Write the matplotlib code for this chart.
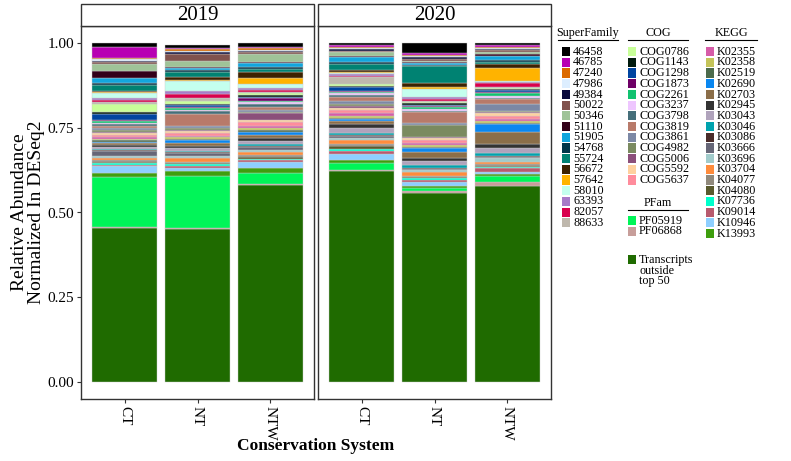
import numpy as np
import matplotlib.pyplot as plt
from matplotlib.patches import Rectangle

plt.rcParams['font.family'] = ['Liberation Serif', 'DejaVu Serif']

# legend groups (stack order is alphabetical, first name on top of the bar)
superfamily = ['46458', '46785', '47240', '47986', '49384', '50022', '50346', '51110', '51905',
               '54768', '55724', '56672', '57642', '58010', '63393', '82057', '88633']
sf_colors = ['#000000', '#B800B3', '#DB6A00', '#DDEEFF', '#0A0A3C', '#80524D', '#9FC398', '#330019',
             '#12A6DD', '#00364A', '#008272', '#3D2200', '#FFB300', '#C4FFEE', '#A77BC9', '#D9004D', '#BFB8AD']
cog = ['COG0786', 'COG1143', 'COG1298', 'COG1873', 'COG2261', 'COG3237', 'COG3798', 'COG3819',
       'COG3861', 'COG4982', 'COG5006', 'COG5592', 'COG5637']
cog_colors = ['#C8FF99', '#001A0D', '#0045A0', '#6E0066', '#11C270', '#EEC6FF', '#456F7A', '#B87A6A',
              '#7C88A5', '#7A8A60', '#8B4F7A', '#FFD19F', '#FF8C9C']
kegg = ['K02355', 'K02358', 'K02519', 'K02690', 'K02703', 'K02945', 'K03043', 'K03046', 'K03086',
        'K03666', 'K03696', 'K03704', 'K04077', 'K04080', 'K07736', 'K09014', 'K10946', 'K13993']
kegg_colors = ['#D65CA8', '#C4C45A', '#4C6B4C', '#0A87F0', '#8B6E49', '#333333', '#B0A3BC', '#00A3AE',
               '#4A2C2A', '#666677', '#A1CBCB', '#FF8C3C', '#918A7D', '#5A5A2E', '#00FFCC', '#B85A6E',
               '#8ECFFF', '#3E9E0E']
pfam = ['PF05919', 'PF06868']
pfam_colors = ['#00F558', '#C79E9A']
other = 'Transcripts\noutside\ntop 50'
other_color = '#1F6B00'

categories = superfamily + cog + kegg + pfam + [other]
colors = sf_colors + cog_colors + kegg_colors + pfam_colors + [other_color]

years = ['2019', '2020']
systems = ['CT', 'NT', 'NTW']

# relative abundance, same order as categories
ct_2019 = ([0.012, 0.031, 0.004, 0.005, 0.005, 0.005, 0.022, 0.020, 0.015, 0.005, 0.018, 0.004, 0.003, 0.012, 0.008, 0.005, 0.006]
           + [0.025, 0.005, 0.018, 0.003, 0.004, 0.004, 0.005, 0.006, 0.006, 0.006, 0.004, 0.004, 0.008]
           + [0.005, 0.004, 0.005, 0.004, 0.005, 0.005, 0.006, 0.004, 0.004, 0.012, 0.006, 0.008, 0.004, 0.004, 0.006, 0.004, 0.020, 0.012]
           + [0.146, 0.003] + [0.455])
nt_2019 = ([0.008, 0.004, 0.006, 0.003, 0.005, 0.020, 0.018, 0.004, 0.006, 0.005, 0.016, 0.008, 0.003, 0.030, 0.008, 0.012, 0.009]
           + [0.008, 0.004, 0.006, 0.004, 0.005, 0.003, 0.008, 0.035, 0.008, 0.005, 0.004, 0.006, 0.006]
           + [0.004, 0.005, 0.004, 0.010, 0.008, 0.006, 0.008, 0.004, 0.004, 0.008, 0.006, 0.010, 0.004, 0.004, 0.006, 0.004, 0.010, 0.014]
           + [0.153, 0.005] + [0.450])
ntw_2019 = ([0.012, 0.004, 0.004, 0.004, 0.004, 0.004, 0.025, 0.003, 0.010, 0.008, 0.008, 0.018, 0.018, 0.012, 0.006, 0.004, 0.004]
            + [0.005, 0.005, 0.004, 0.008, 0.005, 0.006, 0.008, 0.008, 0.006, 0.005, 0.020, 0.006, 0.010]
            + [0.006, 0.006, 0.006, 0.008, 0.010, 0.008, 0.010, 0.006, 0.004, 0.008, 0.006, 0.008, 0.006, 0.005, 0.005, 0.004, 0.020, 0.014]
            + [0.032, 0.004] + [0.580])
ct_2020 = ([0.006, 0.006, 0.004, 0.003, 0.004, 0.004, 0.012, 0.003, 0.015, 0.006, 0.018, 0.004, 0.003, 0.004, 0.004, 0.003, 0.022]
           + [0.006, 0.004, 0.010, 0.004, 0.004, 0.004, 0.006, 0.012, 0.010, 0.005, 0.005, 0.006, 0.010]
           + [0.008, 0.005, 0.005, 0.005, 0.010, 0.012, 0.014, 0.005, 0.003, 0.005, 0.008, 0.012, 0.004, 0.010, 0.006, 0.008, 0.018, 0.008]
           + [0.022, 0.003] + [0.622])
nt_2020 = ([0.031, 0.004, 0.003, 0.003, 0.005, 0.006, 0.003, 0.003, 0.006, 0.004, 0.050, 0.013, 0.004, 0.025, 0.006, 0.004, 0.004]
           + [0.004, 0.004, 0.004, 0.004, 0.006, 0.005, 0.004, 0.032, 0.005, 0.035, 0.004, 0.006, 0.008]
           + [0.006, 0.005, 0.005, 0.012, 0.015, 0.010, 0.012, 0.008, 0.004, 0.004, 0.005, 0.010, 0.004, 0.004, 0.005, 0.006, 0.012, 0.006]
           + [0.008, 0.007] + [0.557])
ntw_2020 = ([0.006, 0.005, 0.003, 0.003, 0.003, 0.008, 0.006, 0.003, 0.012, 0.006, 0.006, 0.012, 0.038, 0.004, 0.004, 0.010, 0.004]
            + [0.004, 0.003, 0.006, 0.003, 0.008, 0.004, 0.003, 0.015, 0.022, 0.004, 0.003, 0.008, 0.008]
            + [0.006, 0.005, 0.005, 0.024, 0.035, 0.010, 0.015, 0.008, 0.003, 0.005, 0.010, 0.008, 0.004, 0.004, 0.004, 0.010, 0.006, 0.006]
            + [0.018, 0.013] + [0.577])

abundance = {'2019': [ct_2019, nt_2019, ntw_2019], '2020': [ct_2020, nt_2020, ntw_2020]}

W, H = 791, 461
fig = plt.figure(figsize=(W / 100, H / 100), dpi=100)


def fx(px):
    return px / W


def fy(py):
    return 1 - py / H


panel_x = {'2019': (81, 314), '2020': (318, 551)}
panel_top, panel_bottom, strip_top = 26, 399, 4
edge = '#333333'

for k, year in enumerate(years):
    x0, x1 = panel_x[year]
    ax = fig.add_axes([fx(x0), fy(panel_bottom), fx(x1) - fx(x0), fy(panel_top) - fy(panel_bottom)])
    for i, vals in enumerate(abundance[year]):
        bottom = 0
        for v, c in zip(vals[::-1], colors[::-1]):
            ax.bar(i + 1, v, 0.9, bottom=bottom, color=c, edgecolor='#cccccc', linewidth=0.3)
            bottom += v
    ax.set_xlim(0.4, 3.6)
    ax.set_ylim(-0.05, 1.05)
    ax.set_xticks([1, 2, 3])
    ax.set_xticklabels(systems, rotation=-90, fontsize=11, va='top')
    ax.set_yticks([0, 0.25, 0.5, 0.75, 1.0])
    ax.set_yticklabels(['0.00', '0.25', '0.50', '0.75', '1.00'], fontsize=11)
    ax.tick_params(direction='out', length=3, width=0.8, color=edge, pad=2)
    if k == 1:
        ax.tick_params(left=False, labelleft=False)
    for s in ax.spines.values():
        s.set_color(edge)
        s.set_linewidth(1.0)
    # facet strip
    fig.patches.append(Rectangle((fx(x0), fy(panel_top)), fx(x1) - fx(x0), fy(strip_top) - fy(panel_top),
                                 transform=fig.transFigure, facecolor='white', edgecolor=edge, linewidth=1.0))
    fig.text(fx((x0 + x1) / 2), fy(15), year, ha='center', va='center', fontsize=15)

fig.text(fx(28), fy(212), 'Relative Abundance\nNormalized In DESeq2', rotation=90,
         ha='center', va='center', fontsize=14, linespacing=1.0)
fig.text(fx(316), fy(446), 'Conservation System', ha='center', va='center', fontsize=12.5, fontweight='bold')

# legends
row_h = 10.7
lab_size = 8.7


def legend_group(title, names, cols, key_x, line_x0, line_x1, title_y, first_row):
    fig.text(fx((line_x0 + line_x1) / 2), fy(title_y), title, ha='center', va='center', fontsize=lab_size)
    fig.lines.append(plt.Line2D([fx(line_x0), fx(line_x1)], [fy(title_y + 7.5), fy(title_y + 7.5)],
                                transform=fig.transFigure, color='black', linewidth=0.8))
    for j, (n, c) in enumerate(zip(names, cols)):
        yc = first_row + j * row_h
        fig.patches.append(Rectangle((fx(key_x), fy(yc + 4.6)), fx(8), fy(0) - fy(9.2),
                                     transform=fig.transFigure, facecolor=c, edgecolor='none'))
        fig.text(fx(key_x + 11), fy(yc), n, ha='left', va='center', fontsize=lab_size)


legend_group('SuperFamily', superfamily, sf_colors, 562, 558, 618, 33, 51.7)
legend_group('COG', cog, cog_colors, 628, 628, 688, 33, 51.7)
legend_group('KEGG', kegg, kegg_colors, 706, 705, 757, 33, 51.7)
legend_group('PFam', pfam, pfam_colors, 628, 628, 688, 202.7, 220.7)

fig.patches.append(Rectangle((fx(628), fy(264)), fx(8), fy(0) - fy(9.2),
                             transform=fig.transFigure, facecolor=other_color, edgecolor='none'))
fig.text(fx(639), fy(254.5), other, ha='left', va='top', fontsize=lab_size, linespacing=0.78)

fig.savefig('out.png', dpi=100)
